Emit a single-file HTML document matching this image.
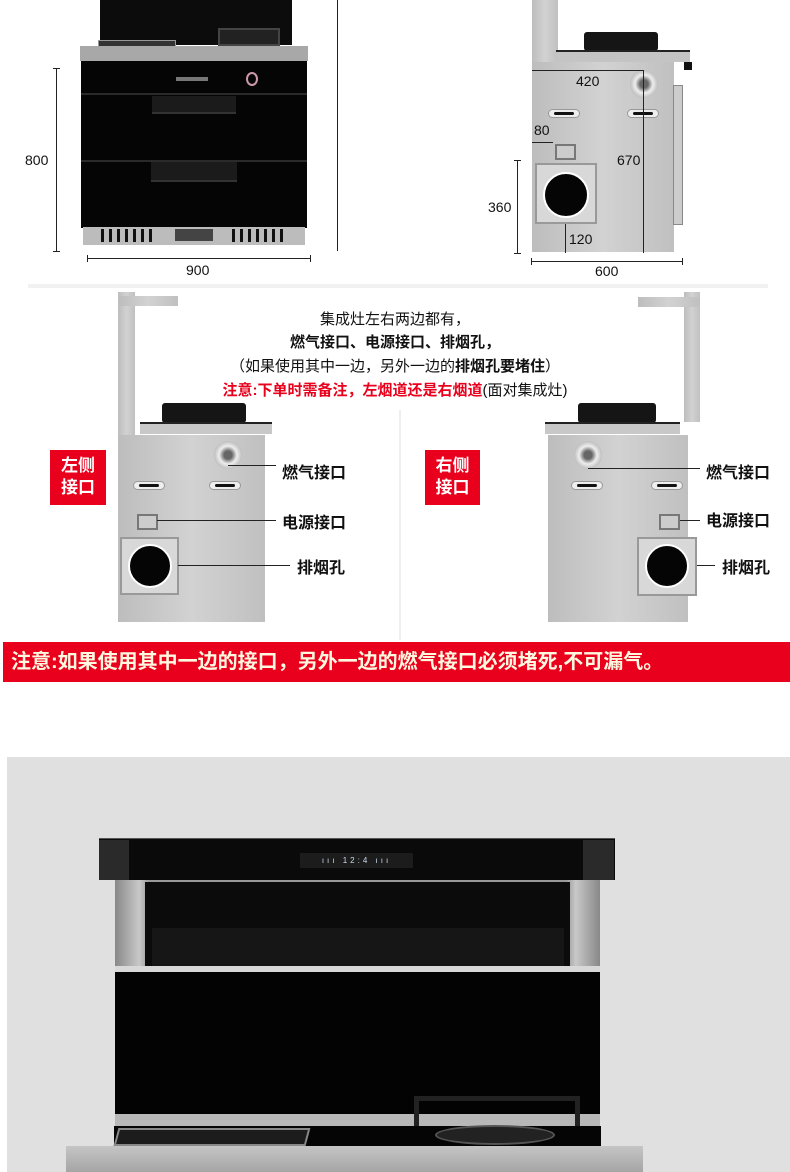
<!DOCTYPE html>
<html><head><meta charset="utf-8"><style>
*{margin:0;padding:0;box-sizing:border-box}
body{width:790px;height:1172px;background:#fff;position:relative;overflow:hidden;font-family:"Liberation Sans","Noto Sans CJK SC",sans-serif}
.a{position:absolute}
.t{position:absolute;font-size:14px;color:#111;white-space:nowrap}
.b{font-weight:bold}
.gray{background:linear-gradient(90deg,#bdbdbd,#d2d2d2 50%,#c0c0c0)}
.slot{position:absolute;width:32px;height:9px;border-radius:5px;background:#eee;border:1px solid #999}
.slot:after{content:"";position:absolute;left:5px;right:5px;top:2px;height:3px;border-radius:2px;background:#111}
.ln{position:absolute;background:#222}
</style></head><body>

<!-- TOP LEFT -->
<div class="a" style="left:100px;top:0;width:192px;height:45px;background:#0c0c0c"></div>
<div class="a" style="left:218px;top:28px;width:62px;height:18px;background:#222;border:2px solid #444"></div>
<div class="a" style="left:98px;top:40px;width:78px;height:8px;background:#333;border:1px solid #999"></div>
<div class="a" style="left:80px;top:46px;width:228px;height:15px;background:#a8a8a8"></div>
<div class="a" style="left:81px;top:61px;width:226px;height:167px;background:#050505"></div>
<div class="a" style="left:81px;top:93px;width:226px;height:2px;background:#2a2a2a"></div>
<div class="a" style="left:81px;top:160px;width:226px;height:2px;background:#2a2a2a"></div>
<div class="a" style="left:152px;top:96px;width:84px;height:18px;background:#1b1b1b;border-bottom:2px solid #333"></div>
<div class="a" style="left:151px;top:162px;width:86px;height:20px;background:#1b1b1b;border-bottom:2px solid #333"></div>
<div class="a" style="left:176px;top:77px;width:32px;height:4px;background:#777"></div>
<div class="a" style="left:246px;top:72px;width:12px;height:14px;border-radius:50%;border:2px solid #c9a"></div>
<div class="a" style="left:83px;top:227px;width:222px;height:18px;background:#bcbcbc"></div>
<div class="a" style="left:101px;top:229px;width:55px;height:13px;background:repeating-linear-gradient(90deg,#111 0 3px,transparent 3px 8px)"></div>
<div class="a" style="left:232px;top:229px;width:55px;height:13px;background:repeating-linear-gradient(90deg,#111 0 3px,transparent 3px 8px)"></div>
<div class="a" style="left:175px;top:229px;width:38px;height:12px;background:#444"></div>
<div class="ln" style="left:56px;top:68px;width:1px;height:183px"></div>
<div class="ln" style="left:53px;top:68px;width:7px;height:1px"></div>
<div class="ln" style="left:53px;top:251px;width:7px;height:1px"></div>
<div class="t" style="left:25px;top:152px">800</div>
<div class="ln" style="left:337px;top:0;width:1px;height:251px"></div>
<div class="ln" style="left:87px;top:258px;width:224px;height:1px"></div>
<div class="ln" style="left:87px;top:255px;width:1px;height:7px"></div>
<div class="ln" style="left:310px;top:255px;width:1px;height:7px"></div>
<div class="t" style="left:186px;top:262px">900</div>

<!-- TOP RIGHT -->
<div class="a gray" style="left:532px;top:0;width:26px;height:62px"></div>
<div class="a" style="left:584px;top:32px;width:74px;height:19px;background:#151515;border-radius:3px"></div>
<div class="a" style="left:556px;top:50px;width:134px;height:12px;background:#c4c4c4;border-top:2px solid #222"></div>
<div class="a" style="left:684px;top:62px;width:8px;height:8px;background:#111"></div>
<div class="a gray" style="left:532px;top:62px;width:142px;height:190px"></div>
<div class="a" style="left:673px;top:85px;width:10px;height:140px;background:#ccc;border:1px solid #888"></div>
<div class="a" style="left:630px;top:70px;width:28px;height:28px;border-radius:50%;background:radial-gradient(#666 20%,#eee 45%,#999 90%)"></div>
<div class="slot" style="left:548px;top:109px"></div>
<div class="slot" style="left:627px;top:109px"></div>
<div class="a" style="left:555px;top:144px;width:21px;height:16px;border:2px solid #777;background:#ccc"></div>
<div class="a" style="left:535px;top:163px;width:62px;height:61px;background:#d8d8d8;border:2px solid #999"></div>
<div class="a" style="left:543px;top:172px;width:46px;height:46px;border-radius:50%;background:#050505;border:2px solid #fff"></div>
<div class="ln" style="left:532px;top:70px;width:112px;height:1px"></div>
<div class="t" style="left:576px;top:73px">420</div>
<div class="ln" style="left:643px;top:70px;width:1px;height:183px"></div>
<div class="t" style="left:617px;top:152px">670</div>
<div class="t" style="left:534px;top:122px">80</div>
<div class="ln" style="left:532px;top:142px;width:21px;height:1px"></div>
<div class="ln" style="left:517px;top:160px;width:1px;height:93px"></div>
<div class="ln" style="left:514px;top:160px;width:7px;height:1px"></div>
<div class="ln" style="left:514px;top:253px;width:7px;height:1px"></div>
<div class="t" style="left:488px;top:199px">360</div>
<div class="ln" style="left:565px;top:224px;width:1px;height:29px"></div>
<div class="t" style="left:569px;top:231px">120</div>
<div class="ln" style="left:531px;top:261px;width:152px;height:1px"></div>
<div class="ln" style="left:531px;top:258px;width:1px;height:7px"></div>
<div class="ln" style="left:682px;top:258px;width:1px;height:7px"></div>
<div class="t" style="left:595px;top:263px">600</div>
<div class="a" style="left:28px;top:284px;width:740px;height:4px;background:#f1f1f1"></div>

<!-- MIDDLE LEFT -->
<div class="a gray" style="left:118px;top:292px;width:17px;height:145px"></div>
<div class="a gray" style="left:118px;top:296px;width:60px;height:10px"></div>
<div class="a" style="left:162px;top:403px;width:84px;height:20px;background:#151515;border-radius:3px"></div>
<div class="a" style="left:140px;top:422px;width:132px;height:12px;background:#c8c8c8;border-top:2px solid #222"></div>
<div class="a gray" style="left:118px;top:435px;width:147px;height:187px"></div>
<div class="a" style="left:214px;top:441px;width:28px;height:28px;border-radius:50%;background:radial-gradient(#666 20%,#eee 45%,#999 90%)"></div>
<div class="slot" style="left:133px;top:481px"></div>
<div class="slot" style="left:209px;top:481px"></div>
<div class="a" style="left:137px;top:514px;width:21px;height:16px;border:2px solid #777;background:#ccc"></div>
<div class="a" style="left:120px;top:537px;width:59px;height:58px;background:#d8d8d8;border:2px solid #999"></div>
<div class="a" style="left:128px;top:544px;width:44px;height:44px;border-radius:50%;background:#050505;border:2px solid #fff"></div>
<div class="ln" style="left:228px;top:465px;width:48px;height:1px"></div>
<div class="ln" style="left:157px;top:520px;width:119px;height:1px"></div>
<div class="ln" style="left:178px;top:565px;width:112px;height:1px"></div>
<div class="t b" style="left:282px;top:459px;font-size:16px">燃气接口</div>
<div class="t b" style="left:282px;top:509px;font-size:16px">电源接口</div>
<div class="t b" style="left:297px;top:554px;font-size:16px">排烟孔</div>
<div class="a b" style="left:50px;top:450px;width:56px;height:55px;background:#e8001c;color:#fff;font-size:17px;line-height:22px;text-align:center;padding-top:5px">左侧<br>接口</div>

<!-- CENTER TEXT -->
<div class="t" style="left:0;width:790px;text-align:center;top:308px;font-size:15px">集成灶左右两边都有，</div>
<div class="t b" style="left:0;width:790px;text-align:center;top:331px;font-size:15px">燃气接口、电源接口、排烟孔，</div>
<div class="t" style="left:0;width:790px;text-align:center;top:355px;font-size:15px">（如果使用其中一边，另外一边的<b>排烟孔要堵住</b>）</div>
<div class="t b" style="left:0;width:790px;text-align:center;top:379px;font-size:15px;color:#e8001c">注意:下单时需备注，左烟道还是右烟道<span style="color:#111;font-weight:normal">(面对集成灶)</span></div>
<div class="a" style="left:399px;top:410px;width:2px;height:230px;background:#eee"></div>

<!-- MIDDLE RIGHT -->
<div class="a gray" style="left:684px;top:292px;width:16px;height:130px"></div>
<div class="a gray" style="left:638px;top:297px;width:62px;height:10px"></div>
<div class="a" style="left:578px;top:403px;width:78px;height:20px;background:#151515;border-radius:3px"></div>
<div class="a" style="left:545px;top:422px;width:135px;height:12px;background:#c8c8c8;border-top:2px solid #222"></div>
<div class="a gray" style="left:548px;top:435px;width:140px;height:187px"></div>
<div class="a" style="left:574px;top:441px;width:28px;height:28px;border-radius:50%;background:radial-gradient(#666 20%,#eee 45%,#999 90%)"></div>
<div class="slot" style="left:571px;top:481px"></div>
<div class="slot" style="left:651px;top:481px"></div>
<div class="a" style="left:659px;top:514px;width:21px;height:16px;border:2px solid #777;background:#ccc"></div>
<div class="a" style="left:637px;top:537px;width:60px;height:59px;background:#d8d8d8;border:2px solid #999"></div>
<div class="a" style="left:645px;top:544px;width:44px;height:44px;border-radius:50%;background:#050505;border:2px solid #fff"></div>
<div class="ln" style="left:588px;top:468px;width:112px;height:1px"></div>
<div class="ln" style="left:680px;top:520px;width:20px;height:1px"></div>
<div class="ln" style="left:697px;top:565px;width:18px;height:1px"></div>
<div class="t b" style="left:706px;top:459px;font-size:16px">燃气接口</div>
<div class="t b" style="left:706px;top:507px;font-size:16px">电源接口</div>
<div class="t b" style="left:722px;top:554px;font-size:16px">排烟孔</div>
<div class="a b" style="left:425px;top:450px;width:55px;height:55px;background:#e8001c;color:#fff;font-size:17px;line-height:22px;text-align:center;padding-top:5px">右侧<br>接口</div>

<!-- RED BANNER -->
<div class="a b" style="left:3px;top:642px;width:787px;height:40px;background:#e8001c;color:#fff8e0;font-size:20px;line-height:40px;padding-left:8px;white-space:nowrap">注意:如果使用其中一边的接口，另外一边的燃气接口必须堵死,不可漏气。</div>

<!-- BOTTOM PHOTO -->
<div class="a" style="left:7px;top:757px;width:783px;height:415px;background:#e0e0e0"></div>
<div class="a" style="left:99px;top:838px;width:516px;height:42px;background:#0a0a0a;border-top:1px solid #555"></div>
<div class="a" style="left:99px;top:840px;width:30px;height:40px;background:#2a2a2a"></div>
<div class="a" style="left:583px;top:840px;width:31px;height:40px;background:#2a2a2a"></div>
<div class="a" style="left:300px;top:853px;width:113px;height:15px;background:#1c1c1c;color:#cde;font-size:8px;line-height:15px;text-align:center;letter-spacing:3px">ııı 12:4 ııı</div>
<div class="a" style="left:115px;top:880px;width:485px;height:88px;background:linear-gradient(90deg,#888,#c8c8c8 5%,#999 7%,#999 93%,#c8c8c8 95%,#888)"></div>
<div class="a" style="left:145px;top:882px;width:425px;height:85px;background:#0b0b0b"></div>
<div class="a" style="left:152px;top:928px;width:412px;height:38px;background:#161616"></div>
<div class="a" style="left:115px;top:966px;width:485px;height:6px;background:#d8d8d8"></div>
<div class="a" style="left:115px;top:972px;width:485px;height:150px;background:#030303"></div>
<div class="a" style="left:115px;top:1114px;width:485px;height:12px;background:#b8b8b8"></div>
<div class="a" style="left:114px;top:1126px;width:487px;height:22px;background:#050505"></div>
<div class="a" style="left:116px;top:1128px;width:192px;height:18px;background:#1c1c1c;border:2px solid #888;transform:skewX(-15deg)"></div>
<div class="a" style="left:414px;top:1096px;width:166px;height:30px;border:5px solid #222;border-bottom:none"></div>
<div class="a" style="left:435px;top:1125px;width:120px;height:20px;border-radius:50%;background:#222;border:2px solid #555"></div>
<div class="a" style="left:66px;top:1146px;width:577px;height:26px;background:linear-gradient(#c5c5c5,#a5a5a5)"></div>
</body></html>
